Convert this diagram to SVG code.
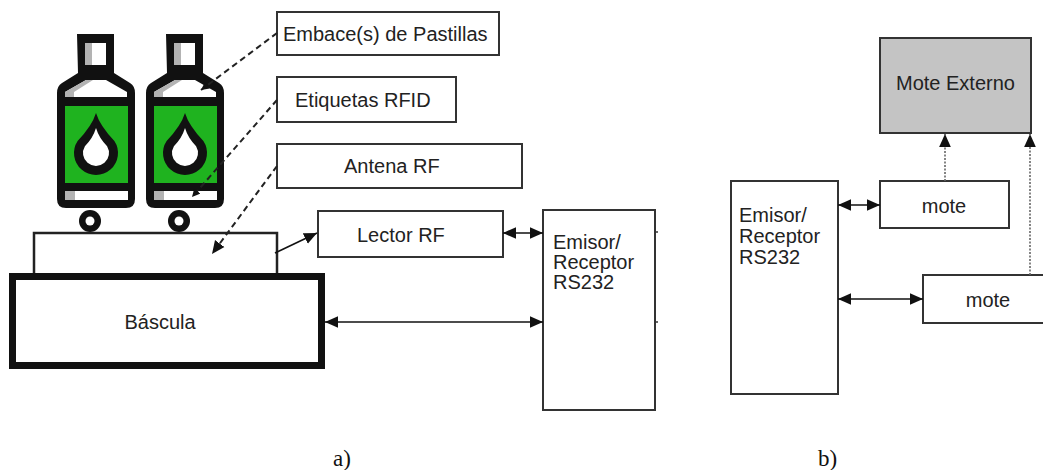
<svg xmlns="http://www.w3.org/2000/svg" width="1043" height="470" viewBox="0 0 1043 470">
  <style>
    .box { fill: #ffffff; stroke: #333333; stroke-width: 2; }
    .grey { fill: #c4c4c4; stroke: #333333; stroke-width: 2; }
    .lbl { font-family: "Liberation Sans", Arial, sans-serif; font-size: 20px; fill: #222222; }
    .cap { font-family: "Liberation Serif", "Times New Roman", serif; font-size: 23px; fill: #111111; }
    .solid { stroke: #111111; stroke-width: 1.6; fill: none; }
    .dash { stroke: #222222; stroke-width: 2; stroke-dasharray: 6 4; fill: none; }
    .dot { stroke: #666666; stroke-width: 1.6; stroke-dasharray: 2 1.5; fill: none; }
  </style>
  <defs>
    <marker id="ah" viewBox="0 0 10 10" refX="10" refY="5" markerWidth="13" markerHeight="13" markerUnits="userSpaceOnUse" orient="auto-start-reverse">
      <path d="M0,0.5 L10,5 L0,9.5 Z" fill="#111111"/>
    </marker>
    <marker id="ahs" viewBox="0 0 10 10" refX="10" refY="5" markerWidth="8" markerHeight="8" markerUnits="userSpaceOnUse" orient="auto">
      <path d="M0,0 L10,5 L0,10 Z" fill="#111111"/>
    </marker>
    <!-- pill bottle icon with a drop on the label and a small wheel -->
    <g id="bottle">
      <path d="M77 34 H114 V73 L130 83 Q135 86 135 93 V199 Q135 208 126 208 H66 Q57 208 57 199 V93 Q57 86 62 83 L78 73 Z" fill="#111111"/>
      <rect x="85" y="43" width="21" height="22" fill="#ffffff"/>
      <rect x="85" y="43" width="7" height="22" fill="#b3b3b3"/>
      <path d="M86 80 H106 L127 92 V97 H65 V92 Z" fill="#ffffff"/>
      <path d="M86 80 H93 L74 92 V97 H65 V92 Z" fill="#b3b3b3"/>
      <rect x="65" y="106" width="63" height="77" fill="#1fb31f"/>
      <rect x="65" y="191" width="63" height="9" fill="#ffffff"/>
      <rect x="65" y="191" width="10" height="9" fill="#b3b3b3"/>
      <path d="M96 113 Q100 126 114.4 140.9 A22 22 0 1 1 77.6 140.9 Q92 126 96 113 Z" fill="#111111"/>
      <path d="M96 128 Q99 138 107.1 146.2 A13 13 0 1 1 84.9 146.2 Q93 138 96 128 Z" fill="#ffffff"/>
      <circle cx="90" cy="221" r="11" fill="#111111"/>
      <circle cx="90" cy="221" r="4.5" fill="#ffffff"/>
    </g>
  </defs>

  <rect width="1043" height="470" fill="#ffffff"/>

  <!-- a) scale with bottles -->
  <g id="antena-plataforma">
    <rect x="34" y="233" width="243" height="43" fill="#ffffff" stroke="#222222" stroke-width="2.5"/>
  </g>
  <g id="bascula">
    <rect x="12.5" y="276.5" width="309" height="89" fill="#ffffff" stroke="#111111" stroke-width="7"/>
    <text class="lbl" x="160" y="329" text-anchor="middle" font-size="21">Báscula</text>
  </g>
  <g id="envase-1">
    <use href="#bottle"/>
  </g>
  <g id="envase-2">
    <use href="#bottle" transform="translate(89,0)"/>
  </g>

  <g id="embace">
    <rect class="box" x="277" y="12" width="222" height="43"/>
    <text class="lbl" x="283" y="41" font-size="20.5">Embace(s) de Pastillas</text>
  </g>
  <g id="etiquetas">
    <rect class="box" x="277" y="77" width="179" height="45"/>
    <text class="lbl" x="295" y="107">Etiquetas RFID</text>
  </g>
  <g id="antena">
    <rect class="box" x="277" y="144" width="245" height="44"/>
    <text class="lbl" x="344" y="173">Antena RF</text>
  </g>
  <g id="lector">
    <rect class="box" x="318" y="211" width="185" height="46"/>
    <text class="lbl" x="357" y="242">Lector RF</text>
  </g>
  <g id="emisor-a">
    <rect class="box" x="543" y="210" width="112" height="200"/>
    <text class="lbl" x="553" y="249">Emisor/</text>
    <text class="lbl" x="553" y="269">Receptor</text>
    <text class="lbl" x="553" y="289">RS232</text>
    <path d="M655 232 H658 M655 322 H658" stroke="#333333" stroke-width="1.5"/>
  </g>

  <!-- b) external mote link -->
  <g id="mote-externo">
    <rect class="grey" x="880" y="38" width="151" height="95"/>
    <text class="lbl" x="896" y="90" font-size="19.8">Mote Externo</text>
  </g>
  <g id="emisor-b">
    <rect class="box" x="731" y="181" width="107" height="213"/>
    <text class="lbl" x="739" y="222">Emisor/</text>
    <text class="lbl" x="739" y="243">Receptor</text>
    <text class="lbl" x="739" y="264">RS232</text>
  </g>
  <g id="mote-1">
    <rect class="box" x="880" y="181" width="129" height="47"/>
    <text class="lbl" x="944" y="213" text-anchor="middle">mote</text>
  </g>
  <g id="mote-2">
    <rect class="box" x="923" y="275" width="130" height="48"/>
    <text class="lbl" x="988" y="307" text-anchor="middle">mote</text>
  </g>

  <g id="connectors">
    <line class="dash" x1="277" y1="33" x2="201" y2="90" marker-end="url(#ahs)"/>
    <line class="dash" x1="277" y1="100" x2="192" y2="197" marker-end="url(#ahs)"/>
    <line class="dash" x1="277" y1="166" x2="212" y2="254" marker-end="url(#ah)"/>
    <line class="solid" x1="275" y1="253" x2="317" y2="233" marker-end="url(#ah)"/>
    <line class="solid" x1="503" y1="233" x2="543" y2="233" marker-start="url(#ah)" marker-end="url(#ah)"/>
    <line class="solid" x1="325" y1="322" x2="543" y2="322" marker-start="url(#ah)" marker-end="url(#ah)"/>
    <line class="solid" x1="838" y1="205" x2="880" y2="205" marker-start="url(#ah)" marker-end="url(#ah)"/>
    <line class="solid" x1="838" y1="299" x2="923" y2="299" marker-start="url(#ah)" marker-end="url(#ah)"/>
    <line class="dot" x1="945" y1="181" x2="945" y2="134" marker-end="url(#ah)"/>
    <line class="dot" x1="1030" y1="275" x2="1030" y2="134" marker-end="url(#ah)"/>
  </g>

  <text class="cap" x="333" y="466">a)</text>
  <text class="cap" x="818" y="466">b)</text>
</svg>
